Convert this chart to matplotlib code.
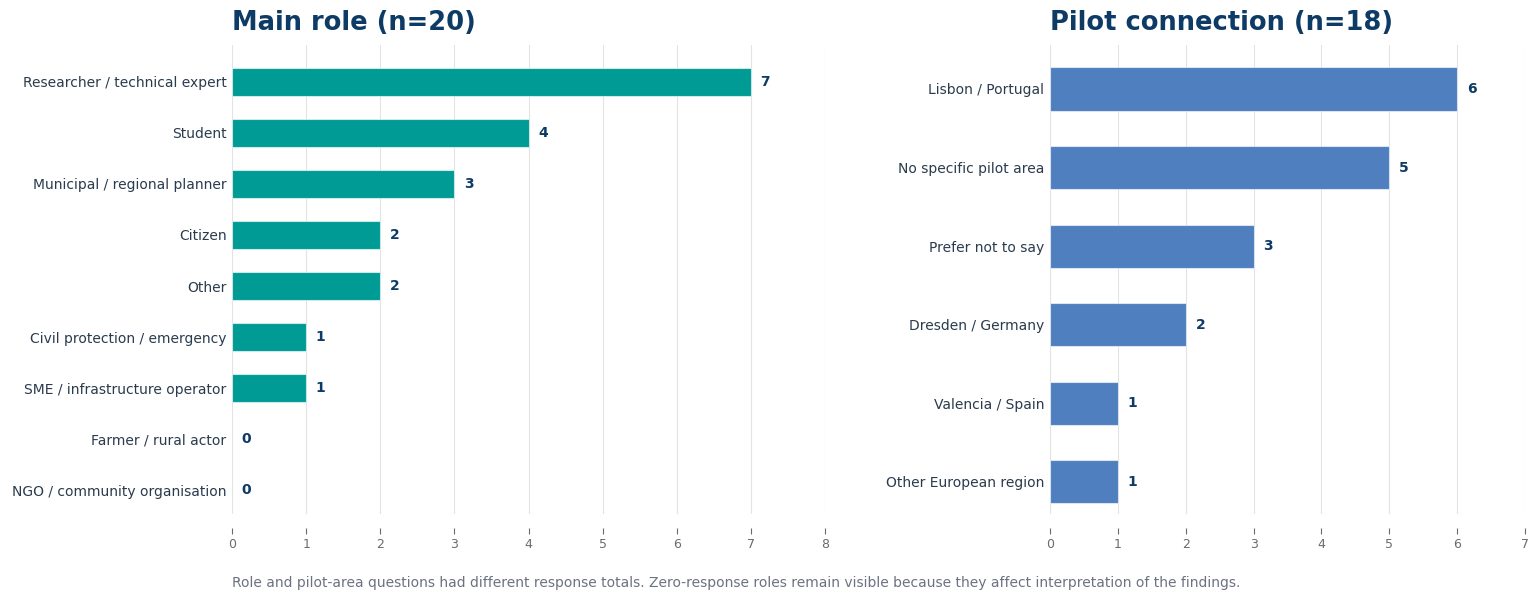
import matplotlib
matplotlib.use('Agg')
import matplotlib.pyplot as plt
import numpy as np

# ----------------------------------------------------------------------
#   Data
# ----------------------------------------------------------------------

role_labels = ['Researcher / technical expert', 'Student', 'Municipal / regional planner',
               'Citizen', 'Other', 'Civil protection / emergency', 'SME / infrastructure operator',
               'Farmer / rural actor', 'NGO / community organisation']
role_counts = [7, 4, 3, 2, 2, 1, 1, 0, 0]

pilot_labels = ['Lisbon / Portugal', 'No specific pilot area', 'Prefer not to say',
                'Dresden / Germany', 'Valencia / Spain', 'Other European region']
pilot_counts = [6, 5, 3, 2, 1, 1]

titles = ['Main role (n=20)', 'Pilot connection (n=18)']
note = ('Role and pilot-area questions had different response totals. '
        'Zero-response roles remain visible because they affect interpretation of the findings.')

navy = '#0d3b66'
label_col = '#2a3b4d'
tick_col = '#6b6b6b'


def draw_panel(ax, labels, counts, color, title, xmax, ylim):
    y = np.arange(len(labels))
    widths = [0.8 if v > 0 else 0 for v in counts]
    ax.barh(y, counts, height=0.55, color=color, edgecolor='#ffffff99', linewidth=widths, zorder=3)
    ax.set_yticks(y)
    ax.set_yticklabels(labels, fontsize=10, color=label_col)
    ax.set_ylim(*ylim)
    ax.set_xlim(0, xmax)
    ax.set_xticks(range(0, xmax + 1))
    ax.tick_params(axis='x', labelsize=9, colors=tick_col, length=4, width=0.8)
    ax.tick_params(axis='y', length=0, pad=4)
    ax.grid(axis='x', color='#e3e3e3', linewidth=0.8, zorder=0)
    ax.set_axisbelow(True)
    for side in ['top', 'right', 'left', 'bottom']:
        ax.spines[side].set_visible(False)
    ax.spines['bottom'].set_position(('outward', 10))
    for yi, v in zip(y, counts):
        ax.annotate(str(v), xy=(v, yi), xytext=(7, 0), textcoords='offset points',
                    va='center', ha='left', fontsize=10, fontweight='bold', color=navy)
    ax.set_title(title, loc='left', fontsize=18.5, fontweight='bold', color=navy, pad=11)


fig = plt.figure(figsize=(15.4, 6.02), dpi=100)
ax1 = fig.add_axes([232 / 1540, 1 - 514 / 602, 593 / 1540, 469 / 602])
ax2 = fig.add_axes([1050 / 1540, 1 - 514 / 602, 475 / 1540, 469 / 602])

draw_panel(ax1, role_labels, role_counts, '#009b94', titles[0], 8, (8.47, -0.725))
draw_panel(ax2, pilot_labels, pilot_counts, '#4f7fbf', titles[1], 7, (5.41, -0.56))

fig.text(232 / 1540, 1 - 583 / 602, note, fontsize=10, color='#6b7280', va='center', ha='left')

fig.savefig('out.png', dpi=100)
